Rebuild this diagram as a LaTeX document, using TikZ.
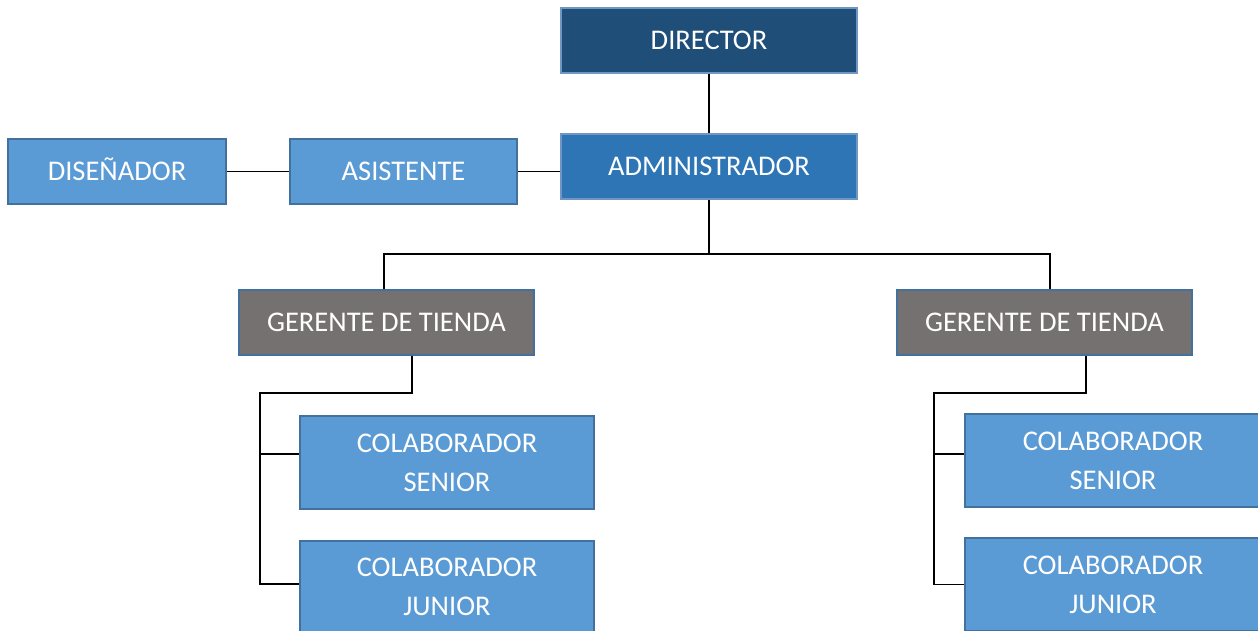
\documentclass[tikz,border=0pt]{standalone}
\usepackage{fontspec}
\setmainfont{Carlito}
\definecolor{dirfill}{HTML}{1F4E79}
\definecolor{admfill}{HTML}{2E75B6}
\definecolor{lightfill}{HTML}{5B9BD5}
\definecolor{grayfill}{HTML}{767171}
\definecolor{edgeblue}{HTML}{41719C}
\definecolor{edgelight}{HTML}{7096C4}
\begin{document}
\begin{tikzpicture}[x=1pt,y=-1pt,
  box/.style={rectangle, draw=edgeblue, line width=2pt, text=white, inner sep=0pt,
    font=\fontsize{28.5}{39}\selectfont, align=center, minimum height=65pt},
  topbox/.style={box, draw=edgelight},
  conn/.style={draw=black, line width=1.3pt}]
\useasboundingbox (0,0) rectangle (1258,631);
\begin{scope}
\clip (0,0) rectangle (1258,631);
\node[topbox, fill=dirfill, minimum width=296pt] (dir) at (709,40.5) {DIRECTOR};
\node[topbox, fill=admfill, minimum width=296pt] (adm) at (709,166.5) {ADMINISTRADOR};
\node[box, fill=lightfill, minimum width=218pt] (dis) at (117,171.5) {DISE\smash{Ñ}ADOR};
\node[box, fill=lightfill, minimum width=227pt] (asi) at (403.5,171.5) {ASISTENTE};
\node[box, fill=grayfill, minimum width=295pt] (g1) at (386.5,322.5) {GERENTE DE TIENDA};
\node[box, fill=grayfill, minimum width=295pt] (g2) at (1044.5,322.5) {GERENTE DE TIENDA};
\node[box, fill=lightfill, minimum width=294pt, minimum height=93pt] (s1) at (447,462.5) {\raisebox{-3pt}{COLABORADOR}\\\raisebox{-3pt}{SENIOR}};
\node[box, fill=lightfill, minimum width=294pt, minimum height=93pt] (j1) at (447,587) {\raisebox{-3pt}{COLABORADOR}\\\raisebox{-3pt}{JUNIOR}};
\node[box, fill=lightfill, minimum width=296pt, minimum height=93pt] (s2) at (1113,460.5) {\raisebox{-3pt}{COLABORADOR}\\\raisebox{-3pt}{SENIOR}};
\node[box, fill=lightfill, minimum width=296pt, minimum height=93pt] (j2) at (1113,584.5) {\raisebox{-3pt}{COLABORADOR}\\\raisebox{-3pt}{JUNIOR}};
\end{scope}
\coordinate (hub) at (709,254);
\coordinate (k1) at (412,393);
\coordinate (c1) at (260,393);
\coordinate (k2) at (1086,393);
\coordinate (c2) at (934,393);
\coordinate (s1b) at ([yshift=8.5pt]s1.west);
\coordinate (j1b) at ([yshift=3pt]j1.west);
\coordinate (s2b) at ([yshift=6.5pt]s2.west);
\coordinate (g1b) at ([xshift=25.5pt]g1.south);
\coordinate (g2b) at ([xshift=41.5pt]g2.south);
\coordinate (g1t) at ([xshift=-2.5pt]g1.north);
\coordinate (g2t) at ([xshift=5.5pt]g2.north);
\draw[conn] (dir.south) -- (adm.north);
\draw[conn] (dis.east) -- (asi.west);
\draw[conn] (asi.east) -- (adm.west |- asi.east);
\draw[conn] (adm.south) -- (hub) -| (g1t);
\draw[conn] (hub) -| (g2t);
\draw[conn] (g1b) -- (k1) -- (c1) |- (j1b);
\draw[conn] (c1 |- s1b) -- (s1b);
\draw[conn] (g2b) -- (k2) -- (c2) |- (j2.west);
\draw[conn] (c2 |- s2b) -- (s2b);
\end{tikzpicture}
\end{document}
